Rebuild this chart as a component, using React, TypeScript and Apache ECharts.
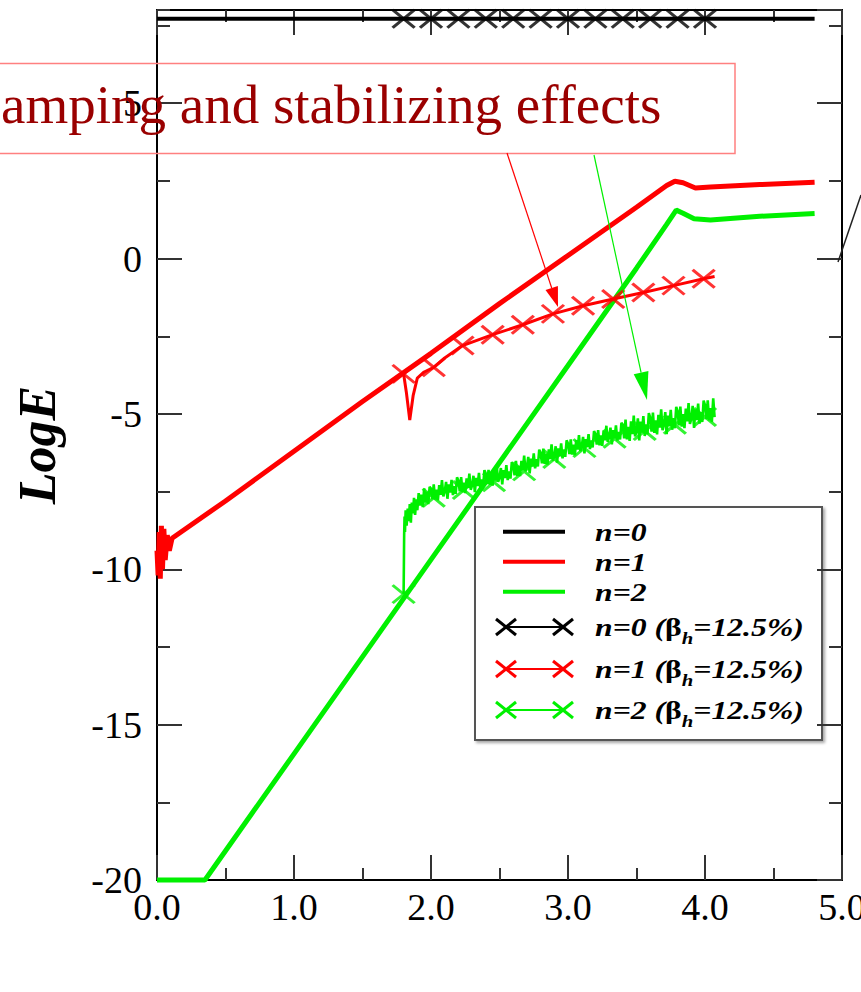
import React, { useEffect, useRef } from "react";
import * as echarts from "echarts";

// ---------- data ----------
const n0Line = [[0, 7.72], [4.8, 7.72]];

const n1Line = [
  [0, -9.4], [0.008, -10.2], [0.016, -8.8], [0.024, -10.3], [0.032, -8.6], [0.04, -10.0],
  [0.05, -8.7], [0.06, -9.7], [0.075, -8.9], [0.09, -9.4], [0.11, -9.0], [0.5, -7.8],
  [1.0, -6.2], [1.5, -4.6], [2.0, -3.05], [2.5, -1.45], [3.0, 0.1], [3.5, 1.65],
  [3.72, 2.35], [3.78, 2.49], [3.84, 2.44], [3.93, 2.27], [4.04, 2.3], [4.4, 2.38], [4.8, 2.46],
];

const n2Line = [
  [0, -20], [0.35, -20], [1.0, -15.94], [2.0, -9.69], [3.0, -3.44], [3.5, -0.31],
  [3.72, 1.1], [3.79, 1.56], [3.84, 1.46], [3.92, 1.28], [4.04, 1.24], [4.4, 1.36], [4.8, 1.45],
];

const n0BetaCross = [
  [1.8, 7.72], [2.0, 7.72], [2.2, 7.72], [2.4, 7.72], [2.6, 7.72], [2.8, 7.72],
  [3.0, 7.72], [3.2, 7.72], [3.4, 7.72], [3.6, 7.72], [3.8, 7.72], [4.0, 7.72],
];

const n1BetaLine = [
  [1.8, -3.71], [1.82, -4.3], [1.845, -5.2], [1.87, -4.4], [1.9, -3.85], [1.95, -3.65],
  [2.02, -3.5], [2.1, -3.2], [2.23, -2.8], [2.45, -2.45], [2.67, -2.13], [2.89, -1.78],
  [3.11, -1.52], [3.33, -1.3], [3.55, -1.09], [3.77, -0.87], [3.99, -0.65], [4.07, -0.58],
];

const n1BetaCross = [
  [1.8, -3.71], [2.02, -3.5], [2.23, -2.8], [2.45, -2.45], [2.67, -2.13], [2.89, -1.78],
  [3.11, -1.52], [3.33, -1.3], [3.55, -1.09], [3.77, -0.87], [3.99, -0.65],
];

const n2BetaLine = [
  [1.8, -10.8], [1.802, -9.9], [1.804, -8.9], [1.807, -8.3], [1.81, -8.8], [1.815, -8.1],
  [1.822, -8.6], [1.83, -8.05], [1.838, -8.45], [1.845, -7.9], [1.853, -8.5], [1.86, -7.85],
  [1.868, -8.2], [1.876, -7.7], [1.884, -8.25], [1.892, -7.75], [1.9, -8.1], [1.91, -7.55],
  [1.92, -7.95], [1.93, -7.6], [1.94, -8.0], [1.95, -7.4], [1.96, -7.85], [1.97, -7.5],
  [1.98, -7.9], [1.99, -7.35],
  [2.0, -7.4], [2.01, -7.74], [2.02, -7.27], [2.03, -7.76], [2.04, -7.44], [2.05, -7.78],
  [2.06, -7.29], [2.07, -7.6], [2.08, -7.13], [2.09, -7.65],
  [2.1, -7.5], [2.11, -7.19], [2.12, -7.73], [2.13, -7.27], [2.14, -7.53], [2.15, -7.12],
  [2.16, -7.61], [2.17, -7.33], [2.18, -7.57], [2.19, -7.04],
  [2.2, -7.15], [2.21, -7.49], [2.22, -7.03], [2.23, -7.52], [2.24, -7.21], [2.25, -7.55],
  [2.26, -7.07], [2.27, -7.38], [2.28, -6.92], [2.29, -7.44],
  [2.3, -7.3], [2.31, -6.99], [2.32, -7.52], [2.33, -7.06], [2.34, -7.32], [2.35, -6.9],
  [2.36, -7.39], [2.37, -7.11], [2.38, -7.35], [2.39, -6.81],
  [2.4, -6.92], [2.41, -7.26], [2.42, -6.8], [2.43, -7.28], [2.44, -6.97], [2.45, -7.31],
  [2.46, -6.83], [2.47, -7.14], [2.48, -6.67], [2.49, -7.19],
  [2.5, -7.05], [2.51, -6.74], [2.52, -7.27], [2.53, -6.81], [2.54, -7.06], [2.55, -6.65],
  [2.56, -7.13], [2.57, -6.85], [2.58, -7.08], [2.59, -6.55],
  [2.6, -6.65], [2.61, -6.98], [2.62, -6.51], [2.63, -6.99], [2.64, -6.67], [2.65, -7.0],
  [2.66, -6.51], [2.67, -6.81], [2.68, -6.34], [2.69, -6.85],
  [2.7, -6.7], [2.71, -6.38], [2.72, -6.91], [2.73, -6.44], [2.74, -6.69], [2.75, -6.27],
  [2.76, -6.75], [2.77, -6.46], [2.78, -6.69], [2.79, -6.15],
  [2.8, -6.25], [2.81, -6.59], [2.82, -6.12], [2.83, -6.61], [2.84, -6.29], [2.85, -6.63],
  [2.86, -6.14], [2.87, -6.45], [2.88, -5.98], [2.89, -6.5],
  [2.9, -6.35], [2.91, -6.04], [2.92, -6.57], [2.93, -6.11], [2.94, -6.36], [2.95, -5.95],
  [2.96, -6.43], [2.97, -6.15], [2.98, -6.38], [2.99, -5.85],
  [3.0, -5.95], [3.01, -6.29], [3.02, -5.82], [3.03, -6.31], [3.04, -5.99], [3.05, -6.33],
  [3.06, -5.84], [3.07, -6.15], [3.08, -5.68], [3.09, -6.2],
  [3.1, -6.05], [3.11, -5.74], [3.12, -6.27], [3.13, -5.81], [3.14, -6.06], [3.15, -5.65],
  [3.16, -6.13], [3.17, -5.85], [3.18, -6.08], [3.19, -5.55],
  [3.2, -5.65], [3.21, -5.99], [3.22, -5.52], [3.23, -6.01], [3.24, -5.69], [3.25, -6.03],
  [3.26, -5.54], [3.27, -5.85], [3.28, -5.38], [3.29, -5.9],
  [3.3, -5.75], [3.31, -5.44], [3.32, -5.98], [3.33, -5.52], [3.34, -5.78], [3.35, -5.37],
  [3.36, -5.86], [3.37, -5.58], [3.38, -5.82], [3.39, -5.29],
  [3.4, -5.34], [3.41, -5.79], [3.42, -5.18], [3.43, -5.82], [3.44, -5.42], [3.45, -5.87],
  [3.46, -5.24], [3.47, -5.65], [3.48, -5.05], [3.49, -5.72],
  [3.5, -5.55], [3.51, -5.14], [3.52, -5.85], [3.53, -5.25], [3.54, -5.6], [3.55, -5.07],
  [3.56, -5.71], [3.57, -5.34], [3.58, -5.66], [3.59, -4.97],
  [3.6, -5.12], [3.61, -5.57], [3.62, -4.96], [3.63, -5.61], [3.64, -5.21], [3.65, -5.66],
  [3.66, -5.03], [3.67, -5.44], [3.68, -4.85], [3.69, -5.52],
  [3.7, -5.35], [3.71, -4.94], [3.72, -5.65], [3.73, -5.05], [3.74, -5.4], [3.75, -4.87],
  [3.76, -5.51], [3.77, -5.14], [3.78, -5.46], [3.79, -4.77],
  [3.8, -4.92], [3.81, -5.37], [3.82, -4.76], [3.83, -5.41], [3.84, -5.01], [3.85, -5.46],
  [3.86, -4.83], [3.87, -5.24], [3.88, -4.65], [3.89, -5.32],
  [3.9, -5.15], [3.91, -4.74], [3.92, -5.45], [3.93, -4.85], [3.94, -5.2], [3.95, -4.67],
  [3.96, -5.31], [3.97, -4.94], [3.98, -5.26], [3.99, -4.57],
  [4.0, -4.72], [4.01, -5.17], [4.02, -4.56], [4.03, -5.21], [4.04, -4.81], [4.05, -5.26],
  [4.06, -4.5], [4.07, -5.1],
];

const n2BetaCross = [
  [1.8, -10.8], [2.02, -7.7], [2.24, -7.45], [2.46, -7.2], [2.68, -6.85], [2.9, -6.45],
  [3.12, -6.1], [3.34, -5.8], [3.56, -5.55], [3.78, -5.35], [4.0, -5.1],
];

const legendPlain = ["n=0", "n=1", "n=2"];
const legendBeta = [
  ["n=0 (", "β", "h", "=12.5%)"],
  ["n=1 (", "β", "h", "=12.5%)"],
  ["n=2 (", "β", "h", "=12.5%)"],
];
const seriesColors = ["#000000", "#ff0000", "#00f000"];

const crossPath = "path://M0,0L20,20M20,0L0,20";
const SERIF = "Liberation Serif";

export default function App() {
  const ref = useRef<HTMLDivElement>(null);

  useEffect(() => {
    const chart = echarts.init(ref.current!, null, { renderer: "svg" });

    const tickStyle = { color: "#333", width: 2 };
    const axisLine = { show: true, onZero: false, lineStyle: { color: "#000", width: 2 } };
    const labelStyle = { fontSize: 38, fontFamily: SERIF, color: "#000" };

    const xBase = (pos: string, showLabel: boolean) => ({
      type: "value",
      min: 0,
      max: 5,
      interval: 1,
      position: pos,
      axisLine,
      axisTick: { show: true, inside: true, length: 25, lineStyle: tickStyle },
      minorTick: { show: true, splitNumber: 2, length: 12, lineStyle: tickStyle },
      axisLabel: {
        show: showLabel,
        formatter: (v: number) => v.toFixed(1),
        margin: 8,
        ...labelStyle,
      },
      splitLine: { show: false },
      minorSplitLine: { show: false },
    });

    const yBase = (pos: string, interval: number, len: number, showLabel: boolean) => ({
      type: "value",
      min: -20,
      max: 8,
      interval,
      position: pos,
      axisLine,
      axisTick: { show: true, inside: true, length: len, lineStyle: tickStyle },
      axisLabel: { show: showLabel, showMaxLabel: false, margin: 15, ...labelStyle },
      splitLine: { show: false },
    });

    const crossScatter = (data: number[][], color: string) => ({
      type: "scatter",
      data,
      symbol: crossPath,
      symbolSize: [22, 18],
      itemStyle: { color: "transparent", borderColor: color, borderWidth: 3 },
      z: 5,
      silent: true,
    });

    const line = (data: number[][], color: string, width: number, z = 3) => ({
      type: "line",
      data,
      symbol: "none",
      clip: false,
      lineStyle: { color, width },
      z,
      silent: true,
    });

    const ctx = document.createElement("canvas").getContext("2d")!;
    const legFont = 26;
    const subSize = 17;
    const legScale = 1.22;
    const fontOf = (size: number, italic: boolean) =>
      `${italic ? "italic " : ""}bold ${size}px "${SERIF}"`;
    const measure = (t: string, size: number, italic: boolean) => {
      ctx.font = fontOf(size, italic);
      return ctx.measureText(t).width * legScale;
    };

    const legendX0 = 595;
    const plainRows = [531.7, 561.7, 591.7];
    const betaRows = [627, 669, 710];

    const textStyle = (t: string, size: number, italic = true) => ({
      text: t,
      fontSize: size,
      fontWeight: "bold",
      fontStyle: italic ? "italic" : "normal",
      fontFamily: SERIF,
      fill: "#000",
      align: "left",
      verticalAlign: "middle",
    });

    const legendEls: any[] = [
      {
        type: "rect",
        shape: { x: 475, y: 507, width: 347, height: 233 },
        style: {
          fill: "#fff",
          stroke: "#555",
          lineWidth: 2,
          shadowBlur: 3,
          shadowColor: "rgba(0,0,0,0.35)",
          shadowOffsetX: 2,
          shadowOffsetY: 2,
        },
      },
    ];
    legendPlain.forEach((t, i) => {
      const y = plainRows[i];
      legendEls.push({
        type: "line",
        shape: { x1: 503, y1: y, x2: 565, y2: y },
        style: { stroke: seriesColors[i], lineWidth: 4 },
      });
      legendEls.push({ type: "text", x: legendX0, y, scaleX: legScale, style: textStyle(t, legFont) });
    });
    legendBeta.forEach((parts, i) => {
      const y = betaRows[i];
      const c = seriesColors[i];
      legendEls.push({
        type: "line",
        shape: { x1: 506, y1: y, x2: 563, y2: y },
        style: { stroke: c, lineWidth: 2 },
      });
      [506, 563].forEach((cx) => {
        legendEls.push({
          type: "line",
          shape: { x1: cx - 10, y1: y - 8, x2: cx + 10, y2: y + 8 },
          style: { stroke: c, lineWidth: 3 },
        });
        legendEls.push({
          type: "line",
          shape: { x1: cx - 10, y1: y + 8, x2: cx + 10, y2: y - 8 },
          style: { stroke: c, lineWidth: 3 },
        });
      });
      let x = legendX0;
      legendEls.push({ type: "text", x, y, scaleX: legScale, style: textStyle(parts[0], legFont) });
      x += measure(parts[0], legFont, true);
      legendEls.push({ type: "text", x, y, scaleX: legScale, style: textStyle(parts[1], legFont, false) });
      x += measure(parts[1], legFont, false);
      legendEls.push({ type: "text", x, y: y + 11, scaleX: legScale, style: textStyle(parts[2], subSize) });
      x += measure(parts[2], subSize, true);
      legendEls.push({ type: "text", x, y, scaleX: legScale, style: textStyle(parts[3], legFont) });
    });

    const option: any = {
      animation: false,
      backgroundColor: "#fff",
      grid: {
        left: 157,
        top: 10,
        width: 685,
        height: 870,
        containLabel: false,
        outerBoundsMode: "none",
      },
      xAxis: [xBase("bottom", true), xBase("top", false)],
      yAxis: [
        yBase("left", 5, 25, true),
        yBase("right", 5, 25, false),
        yBase("left", 2.5, 13, false),
        yBase("right", 2.5, 13, false),
      ],
      series: [
        line(n2BetaLine, "#00f000", 2.6, 3),
        line(n0Line, "#000", 4, 4),
        line(n1Line, "#ff0000", 5, 4),
        line(n2Line, "#00f000", 5, 4),
        line(n1BetaLine, "#ff0000", 3, 4),
        line(n0BetaCross, "#000", 2, 4),
        crossScatter(n0BetaCross, "#000"),
        crossScatter(n1BetaCross, "#ff0000"),
        crossScatter(n2BetaCross, "#00f000"),
      ],
      graphic: [
        {
          type: "text",
          x: 37,
          y: 445,
          rotation: Math.PI / 2,
          style: {
            text: "LogE",
            fontSize: 52,
            fontWeight: "bold",
            fontStyle: "italic",
            fontFamily: SERIF,
            fill: "#000",
            align: "center",
            verticalAlign: "middle",
          },
        },
        { type: "group", z: 50, children: legendEls },
        {
          type: "rect",
          z: 60,
          shape: { x: -2, y: 63.5, width: 737, height: 90 },
          style: { fill: "none", stroke: "#ff8080", lineWidth: 1.5 },
        },
        {
          type: "text",
          z: 61,
          x: 1,
          y: 104,
          style: {
            text: "amping and stabilizing effects",
            fontSize: 55,
            fontFamily: SERIF,
            fill: "#9a0000",
            align: "left",
            verticalAlign: "middle",
          },
        },
        {
          type: "line",
          z: 60,
          shape: { x1: 507, y1: 153, x2: 551.7, y2: 288 },
          style: { stroke: "#ff0000", lineWidth: 1.2 },
        },
        {
          type: "polygon",
          z: 60,
          shape: { points: [[558, 307], [545.5, 290], [557.9, 286]] },
          style: { fill: "#ff0000" },
        },
        {
          type: "line",
          z: 60,
          shape: { x1: 594, y1: 155, x2: 641.1, y2: 372.6 },
          style: { stroke: "#00f000", lineWidth: 1.2 },
        },
        {
          type: "polygon",
          z: 60,
          shape: { points: [[647, 400], [633.7, 374.2], [648.4, 371.1]] },
          style: { fill: "#00f000" },
        },
        {
          type: "line",
          z: 60,
          shape: { x1: 838, y1: 262, x2: 861, y2: 195 },
          style: { stroke: "#222", lineWidth: 1.5 },
        },
      ],
    };

    chart.setOption(option);
    return () => chart.dispose();
  }, []);

  return (
    <div
      ref={ref}
      style={{ position: "absolute", left: 0, top: 0, width: 861, height: 992, background: "#fff" }}
    />
  );
}
